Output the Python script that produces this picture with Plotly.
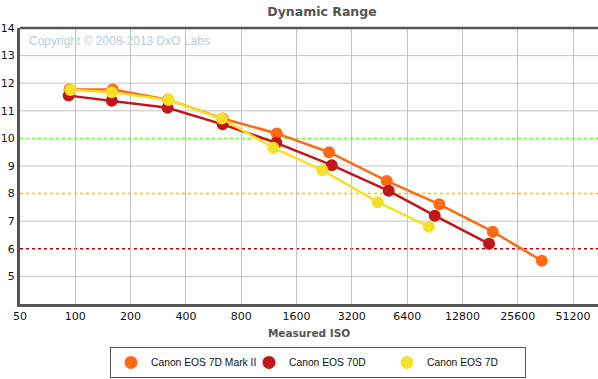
import plotly.graph_objects as go

# ---- data ----
iso_7d2 = [93, 160, 320, 634, 1249, 2405, 4957, 9580, 18720, 34580]
dr_7d2 = [11.77, 11.77, 11.40, 10.72, 10.18, 9.50, 8.46, 7.61, 6.62, 5.57]

iso_70d = [92, 158, 318, 634, 1242, 2488, 5080, 9044, 17870]
dr_70d = [11.55, 11.36, 11.11, 10.51, 9.84, 9.03, 8.10, 7.20, 6.18]

iso_7d = [94, 158, 322, 627, 1196, 2211, 4427, 8390]
dr_7d = [11.75, 11.67, 11.39, 10.72, 9.66, 8.85, 7.69, 6.80]

x_ticks = [50, 100, 200, 400, 800, 1600, 3200, 6400, 12800, 25600, 51200]
y_ticks = [5, 6, 7, 8, 9, 10, 11, 12, 13, 14]
grid_levels = [5, 7, 9, 11, 12, 13]
ref_levels = [6, 8, 10]
ref_colors = ["#c00000", "#ffc000", "#66ff33"]

names = ["Canon EOS 7D Mark II", "Canon EOS 70D", "Canon EOS 7D"]
colors = ["#ff6a13", "#c3161b", "#f7e02a"]

FONT = "DejaVu Sans"

fig = go.Figure()
for xs, ys, n, c in zip([iso_7d2, iso_70d, iso_7d], [dr_7d2, dr_70d, dr_7d], names, colors):
    fig.add_trace(go.Scatter(
        x=xs, y=ys, name=n, mode="lines+markers", showlegend=False,
        line=dict(color=c, width=2.5),
        marker=dict(color=c, size=12, line=dict(width=0)),
    ))
# legend entries (marker only)
for n, c in zip(names, colors):
    fig.add_trace(go.Scatter(
        x=[None], y=[None], name=n, mode="markers",
        marker=dict(color=c, size=13, line=dict(width=0)),
    ))

PH = 276.3  # plot height in px
LEG_L, LEG_T = 110, 347

shapes = []
for lv in grid_levels:
    shapes.append(dict(type="line", xref="paper", yref="y", x0=0, x1=1, y0=lv, y1=lv,
                       line=dict(color="#c4c4c4", width=1), layer="below"))
for lv, c in zip(ref_levels, ref_colors):
    shapes.append(dict(type="line", xref="paper", yref="y", x0=0, x1=1, y0=lv, y1=lv,
                       line=dict(color=c, width=1.5, dash="dot"), layer="below"))
# top border
shapes.append(dict(type="line", xref="paper", yref="paper", x0=0, x1=1, y0=1, y1=1,
                   line=dict(color="#555555", width=2.5)))

fig.update_layout(
    width=598, height=379,
    margin=dict(l=20, r=0, t=28, b=75, autoexpand=False),
    paper_bgcolor="white", plot_bgcolor="white",
    font=dict(family=FONT, size=11, color="#111"),
    title=dict(text="<b>Dynamic Range</b>", x=(322 - 20) / 578, xref="paper", xanchor="center",
               y=0.97, yanchor="middle",
               font=dict(family=FONT, size=12.5, color="#555555")),
    xaxis=dict(type="log", range=[1.699, 4.845], tickvals=x_ticks,
               ticktext=[str(v) for v in x_ticks],
               showgrid=True, gridcolor="#c4c4c4", gridwidth=1,
               showline=True, linecolor="#555555", linewidth=3,
               ticks="", zeroline=False,
               title=dict(text="<b>Measured ISO</b>", standoff=8,
                          font=dict(family=FONT, size=10.5, color="#555555")),
               tickfont=dict(family=FONT, size=11, color="#111")),
    yaxis=dict(range=[4, 14], tickvals=y_ticks, showgrid=False,
               showline=True, linecolor="#555555", linewidth=3,
               ticks="", zeroline=False,
               tickfont=dict(family=FONT, size=11, color="#111")),
    showlegend=True,
    legend=dict(orientation="h", x=(LEG_L - 20) / 578, xanchor="left",
                y=(304 - LEG_T) / PH, yanchor="top",
                bgcolor="white", bordercolor="#555555", borderwidth=1,
                entrywidth=93, entrywidthmode="pixels", itemwidth=30,
                font=dict(family="Liberation Sans", size=10.3, color="#111"),
                tracegroupgap=0),
    shapes=shapes,
    annotations=[dict(text="Copyright © 2008-2013 DxO Labs", xref="paper", yref="paper",
                      x=(27 - 20) / 578, y=(304 - 41) / PH, xanchor="left", yanchor="middle",
                      showarrow=False,
                      font=dict(family="Liberation Sans", size=12, color="#bccbd8"))],
)

fig.write_html("out.html")
